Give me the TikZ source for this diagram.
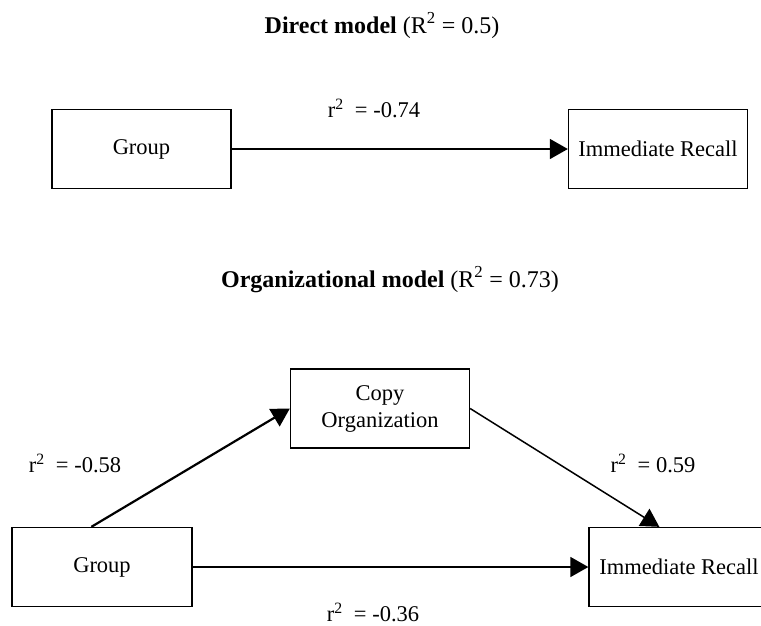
\documentclass[tikz,border=0pt]{standalone}
\usepackage{fontspec}
\setmainfont{Liberation Serif}
\usetikzlibrary{arrows.meta,calc}
\begin{document}
\begin{tikzpicture}[x=1pt,y=-1pt,
  box/.style={draw, line width=1.3pt, minimum width=179pt, minimum height=79pt, inner sep=0pt, align=center, font=\fontsize{22.5}{27}\selectfont},
  lbl/.style={anchor=base, inner sep=0pt, font=\fontsize{22.5}{27}\selectfont},
  ttl/.style={anchor=base, inner sep=0pt, font=\fontsize{24}{28}\selectfont},
  conn/.style={line width=1.5pt, -{Triangle[length=18pt,width=20pt]}}
]
\useasboundingbox (0,0) rectangle (761,625);

% Direct model
\node[ttl] (t1) at (382,33) {\textbf{Direct model} (R\textsuperscript{2} = 0.5)};
\node[box] (g1) at (141.5,149) {Group};
\node[box] (ir1) at (658,149) {Immediate Recall};
\draw[conn] (g1.east) -- (ir1.west);
\node[lbl] (l1) at (374,117) {r\textsuperscript{2}\ \ = -0.74};

% Organizational model
\node[ttl] (t2) at (390,287) {\textbf{Organizational model} (R\textsuperscript{2} = 0.73)};
\node[box] (co) at (380,408.5) {Copy\\Organization};
\node[box, minimum width=180pt] (g2) at (102,567) {Group};
\node[box, minimum width=180pt] (ir2) at (679,567) {Immediate Recall};

\draw[conn, line width=2.2pt] ($(g2.north west)+(80,0)$) -- (co.west);
\draw[conn] (co.east) -- ($(ir2.north west)+(71,0)$);
\draw[conn] (g2.east) -- (ir2.west);

\node[lbl] (l2) at (75,472) {r\textsuperscript{2}\ \ = -0.58};
\node[lbl] (l3) at (653,472) {r\textsuperscript{2}\ \ = 0.59};
\node[lbl] (l4) at (373,621) {r\textsuperscript{2}\ \ = -0.36};
\end{tikzpicture}
\end{document}
